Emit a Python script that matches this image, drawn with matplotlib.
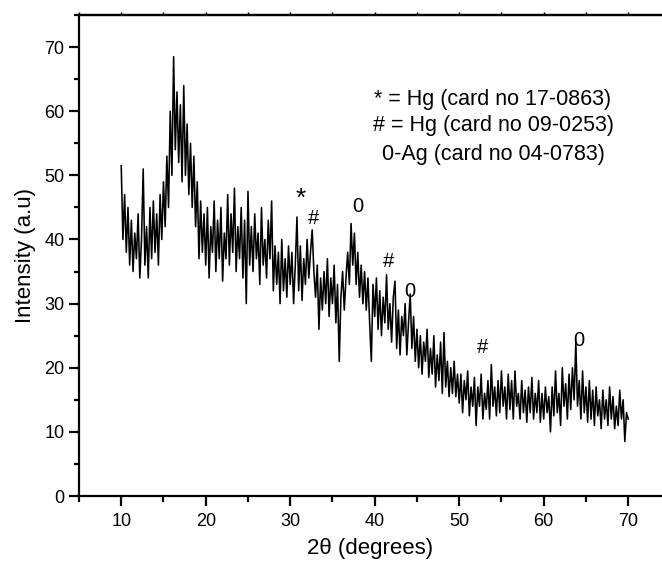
import numpy as np
import matplotlib
matplotlib.use("Agg")
import matplotlib.pyplot as plt
from matplotlib.ticker import MultipleLocator

plt.rcParams['font.family'] = ['Liberation Sans', 'DejaVu Sans']

# intensity, 0.2 deg steps, one list per 10 deg
i_10_20 = [51.5, 40, 47, 38, 45, 36, 43, 35, 41, 37,
           44, 34, 40, 51, 36, 42, 34, 45, 37, 46,
           38, 44, 36, 47, 40, 49, 42, 53, 45, 60,
           50, 68.5, 54, 63, 52, 61, 49, 64, 50, 58,
           47, 55, 45, 53, 42, 49, 37, 46, 38, 44]
i_20_30 = [36, 45, 34, 42, 38, 46, 35, 43, 37, 45,
           33.5, 41, 37, 47, 36, 44, 38, 48, 35, 42,
           37, 45, 34, 43, 30, 47.5, 36, 42, 35, 44,
           37, 41, 33, 45, 36, 40, 34, 43, 37, 46,
           32, 39, 33, 38, 30, 40, 32, 37, 31, 39]
i_30_40 = [33, 38, 30, 36, 43.5, 32, 39, 30.5, 37, 33,
           40, 34, 38, 41.5, 35, 31, 36, 26, 34, 29,
           35, 30, 37, 28, 34, 30, 36, 27, 33, 21,
           31, 35, 29, 34, 38, 33, 42.5, 36, 41, 33,
           38, 31, 36, 30, 35, 29, 34, 27, 21, 33]
i_40_50 = [28, 34, 26, 32, 25, 31, 27, 34.5, 26, 30,
           24, 31, 33.5, 23, 29, 22, 28, 25, 30, 22,
           27, 31.5, 23, 28, 21, 26, 20, 25, 19, 24,
           21, 26, 18.5, 23, 19, 25, 17, 22, 18, 24,
           16, 25.5, 17, 21, 15.5, 20, 16, 21, 15.5, 19]
i_50_60 = [14.5, 19, 13, 18, 15, 19.5, 12.5, 17, 14, 18.5,
           11, 17, 14, 19, 12, 16, 13.5, 18, 12, 20.5,
           14, 17, 12.5, 18, 13, 19.5, 14, 17, 12, 19,
           13.5, 18, 12, 19.5, 14, 16, 12, 18, 13, 16.5,
           11.5, 17, 13, 18.5, 12, 16, 13, 18, 11.5, 16]
i_60_70 = [12, 17, 13, 15.5, 10, 17, 12.5, 19.5, 13, 16,
           11, 20, 14, 17.5, 12, 19, 13.5, 20, 15, 24,
           14, 18, 12, 19.5, 13, 17, 11.5, 18, 12, 16.5,
           11, 17, 12.5, 15, 10.5, 16.5, 12, 15, 11, 17,
           12, 15.5, 10.5, 14, 11, 16.5, 12, 15, 8.5, 13,
           12]

intensity = np.array(i_10_20 + i_20_30 + i_30_40 + i_40_50 + i_50_60 + i_60_70)
two_theta = np.linspace(10, 70, len(intensity))

# peak marks
mark_text = ['*', '#', '0', '#', '0', '#', '0']
mark_x = [31.3, 32.8, 38.0, 41.6, 44.1, 52.8, 64.1]
mark_y = [46.3, 43.3, 45.2, 36.6, 31.9, 23.1, 24.2]

legend_lines = ['* = Hg (card no 17-0863)',
                '# = Hg (card no 09-0253)',
                '0-Ag (card no 04-0783)']
legend_y = [61.9, 57.7, 53.3]

fig = plt.figure(figsize=(6.62, 5.67), dpi=100)
ax = fig.add_axes([0.1193, 0.1252, 0.8807, 0.8483])

ax.plot(two_theta, intensity, color='black', lw=1.15)

for t, x, y in zip(mark_text, mark_x, mark_y):
    fs = 19 if t == '*' else 14.5
    ax.text(x, y, t, fontsize=fs, ha='center', va='center')

for t, y in zip(legend_lines, legend_y):
    ax.text(54.0, y, t, fontsize=15.5, ha='center', va='center')

ax.set_xlim(5, 74)
ax.set_ylim(0, 75)
ax.xaxis.set_major_locator(MultipleLocator(10))
ax.xaxis.set_minor_locator(MultipleLocator(5))
ax.yaxis.set_major_locator(MultipleLocator(10))
ax.yaxis.set_minor_locator(MultipleLocator(5))
ax.spines['right'].set_visible(False)
for s in ['left', 'bottom', 'top']:
    ax.spines[s].set_linewidth(1.6)

ax.tick_params(axis='x', which='major', direction='out', length=7, width=1.6,
               labelsize=13, pad=5)
ax.tick_params(axis='x', which='minor', direction='out', length=4, width=1.6)
ax.tick_params(axis='y', which='major', direction='out', length=7, width=1.6,
               labelsize=13, pad=3.5)
ax.tick_params(axis='y', which='minor', direction='out', length=3.5, width=1.6)

# small marks along the top frame
top = ax.secondary_xaxis('top')
top.xaxis.set_major_locator(MultipleLocator(5))
top.tick_params(direction='out', length=2.5, width=1, labelsize=0, labeltop=False)
top.spines['top'].set_linewidth(1.6)

ax.set_xlabel('2θ (degrees)', fontsize=16, labelpad=6)
ax.set_ylabel('Intensity (a.u)', fontsize=16, labelpad=6)

fig.savefig('out.png', dpi=100)
